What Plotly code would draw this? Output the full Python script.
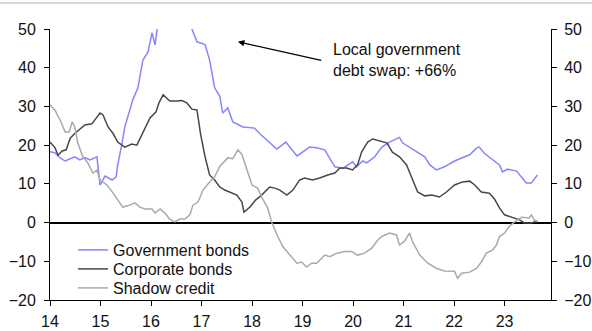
import plotly.graph_objects as go

# ---- data ----
gov_x = [14.00, 14.10, 14.20, 14.30, 14.49, 14.59, 14.69, 14.79, 14.93, 14.99, 15.09, 15.23, 15.31,
         15.34, 15.42, 15.48, 15.64, 15.74, 15.84, 15.94, 16.02, 16.08, 16.14, 16.30, 16.45, 16.60,
         16.72, 16.81, 16.91, 17.07, 17.16, 17.26, 17.36, 17.42, 17.52, 17.62, 17.82, 18.05, 18.15,
         18.35, 18.49, 18.67, 18.89, 18.98, 19.14, 19.28, 19.44, 19.64, 19.80, 19.99, 20.07, 20.19,
         20.27, 20.43, 20.57, 20.72, 20.92, 20.98, 21.12, 21.32, 21.42, 21.52, 21.65, 21.81, 22.01,
         22.21, 22.31, 22.45, 22.50, 22.60, 22.76, 22.90, 22.96, 23.06, 23.24, 23.34, 23.43, 23.53,
         23.65]
gov_y = [18.3, 18.0, 16.7, 15.9, 17.0, 16.2, 16.8, 16.2, 17.0, 9.7, 12.0, 11.0, 11.8,
         14.9, 20.0, 24.7, 31.7, 34.8, 42.0, 44.0, 49.0, 45.9, 52.0, 60.0, 66.0, 63.0,
         56.0, 50.0, 46.7, 46.0, 42.0, 34.8, 32.7, 28.3, 29.6, 26.0, 24.7, 24.4, 23.0,
         20.6, 19.0, 20.8, 17.2, 18.0, 19.5, 19.3, 18.8, 14.4, 14.0, 15.7, 14.4, 15.9,
         15.4, 17.0, 19.5, 20.8, 22.0, 20.6, 19.5, 17.9, 17.0, 14.9, 13.6, 14.4, 15.9,
         17.0, 17.5, 19.3, 19.5, 17.9, 16.2, 14.9, 13.1, 13.8, 13.3, 11.8, 10.2, 10.2,
         12.3]

corp_x = [14.00, 14.10, 14.16, 14.24, 14.32, 14.40, 14.49, 14.59, 14.69, 14.83, 14.99, 15.05, 15.15,
          15.25, 15.34, 15.48, 15.62, 15.72, 15.84, 15.98, 16.10, 16.16, 16.24, 16.37, 16.51, 16.61,
          16.71, 16.81, 16.91, 16.98, 17.07, 17.16, 17.26, 17.36, 17.46, 17.56, 17.70, 17.80, 17.84,
          17.96, 18.07, 18.19, 18.35, 18.45, 18.55, 18.69, 18.81, 18.94, 19.04, 19.20, 19.34, 19.50,
          19.64, 19.74, 19.87, 19.99, 20.09, 20.17, 20.29, 20.39, 20.53, 20.67, 20.78, 20.92, 21.06,
          21.18, 21.28, 21.42, 21.56, 21.71, 21.85, 22.01, 22.17, 22.31, 22.41, 22.54, 22.70, 22.80,
          22.90, 23.00, 23.14, 23.30, 23.39, 23.53, 23.65]
corp_y = [20.8, 19.3, 17.4, 18.5, 18.8, 21.8, 23.0, 24.0, 25.2, 25.5, 28.3, 27.8, 24.7,
          23.0, 20.8, 19.5, 20.3, 20.0, 23.4, 27.0, 28.6, 31.0, 33.0, 31.4, 31.4, 31.5,
          30.9, 29.3, 29.1, 23.0, 17.0, 12.3, 11.0, 9.2, 8.4, 7.9, 7.1, 5.3, 2.7,
          4.0, 5.8, 7.1, 9.2, 8.9, 8.4, 7.1, 8.4, 11.0, 11.5, 11.0, 11.5, 12.3,
          12.8, 14.1, 14.1, 13.6, 14.9, 18.2, 20.8, 21.6, 21.1, 20.6, 18.2, 17.0, 14.9,
          11.0, 7.9, 6.9, 7.1, 6.6, 7.9, 9.7, 10.5, 10.7, 9.7, 7.9, 7.6, 6.1,
          3.8, 2.0, 1.4, 0.7, -0.1, -0.1, 0.4]

shadow_x = [14.00, 14.10, 14.20, 14.30, 14.38, 14.44, 14.49, 14.55, 14.65, 14.75, 14.85, 14.93, 14.99,
            15.13, 15.25, 15.34, 15.44, 15.58, 15.68, 15.78, 15.88, 16.02, 16.08, 16.18, 16.27, 16.37,
            16.47, 16.57, 16.67, 16.77, 16.83, 16.93, 17.03, 17.16, 17.26, 17.36, 17.52, 17.62, 17.72,
            17.80, 17.92, 18.00, 18.11, 18.19, 18.31, 18.39, 18.51, 18.61, 18.75, 18.89, 18.98, 19.08,
            19.18, 19.28, 19.38, 19.44, 19.54, 19.68, 19.83, 19.97, 20.09, 20.23, 20.37, 20.49, 20.57,
            20.72, 20.86, 20.92, 21.02, 21.12, 21.18, 21.32, 21.48, 21.65, 21.81, 22.01, 22.07, 22.15,
            22.31, 22.45, 22.54, 22.64, 22.76, 22.84, 22.90, 23.00, 23.10, 23.20, 23.34, 23.49, 23.53,
            23.59, 23.65]
shadow_y = [30.4, 29.0, 26.5, 23.4, 23.4, 26.0, 24.7, 20.6, 17.0, 15.4, 12.8, 13.6, 11.0,
            9.7, 7.6, 5.8, 4.0, 4.5, 5.1, 4.0, 3.5, 3.5, 2.5, 3.5, 2.5, 0.9,
            0.2, 0.9, 0.9, 2.0, 4.5, 5.3, 8.4, 10.5, 11.8, 14.5, 16.7, 16.5, 18.8,
            17.6, 13.1, 9.7, 8.9, 6.6, 3.8, 0.1, -3.6, -6.2, -8.4, -10.5, -10.2, -11.5,
            -10.5, -10.5, -9.2, -8.4, -8.8, -7.9, -7.5, -7.5, -8.4, -7.9, -6.6, -4.5, -3.6,
            -2.7, -3.2, -5.8, -4.8, -2.7, -5.0, -8.4, -10.5, -11.8, -12.5, -12.6, -14.4, -13.1,
            -12.8, -11.8, -10.2, -7.9, -7.1, -5.8, -3.6, -2.7, -0.9, 0.2, 1.4, 1.2, 2.0,
            0.7, 0.2]

x_tickvals = [14, 15, 16, 17, 18, 19, 20, 21, 22, 23]
x_ticktext = ["14", "15", "16", "17", "18", "19", "20", "21", "22", "23"]
y_tickvals = [-20, -10, 0, 10, 20, 30, 40, 50]

series_names = ["Government bonds", "Corporate bonds", "Shadow credit"]
annotation_text = "Local government<br>debt swap: +66%"

FONT = "Liberation Sans, Arial, sans-serif"
TXT = "#111111"

fig = go.Figure()
fig.add_trace(go.Scatter(x=gov_x, y=gov_y, mode="lines", name=series_names[0],
                         line=dict(color="#8585ff", width=1.5), legend="legend"))
fig.add_trace(go.Scatter(x=corp_x, y=corp_y, mode="lines", name=series_names[1],
                         line=dict(color="#484848", width=1.5), legend="legend2"))
fig.add_trace(go.Scatter(x=shadow_x, y=shadow_y, mode="lines", name=series_names[2],
                         line=dict(color="#aaaaaa", width=1.5), legend="legend3"))
# invisible trace to activate the right axis
fig.add_trace(go.Scatter(x=[14], y=[0], yaxis="y2", mode="markers",
                         marker=dict(opacity=0), showlegend=False, hoverinfo="skip"))

axis_common = dict(showgrid=False, showline=True, linecolor="black", linewidth=1,
                   ticks="outside", ticklen=5, tickcolor="black", automargin=False,
                   tickfont=dict(family=FONT, size=16, color=TXT))

legend_common = dict(xanchor="left", yanchor="middle", bgcolor="rgba(0,0,0,0)",
                     font=dict(family=FONT, size=16, color=TXT), itemwidth=30)

LEG_X = 0.046

fig.update_layout(
    width=592, height=331,
    margin=dict(l=50, r=41, t=29, b=31),
    paper_bgcolor="white", plot_bgcolor="white",
    font=dict(family=FONT, size=16, color=TXT),
    xaxis=dict(range=[14, 23.92], tickvals=x_tickvals, ticktext=x_ticktext,
               zeroline=False, ticklabelstandoff=2, **axis_common),
    yaxis=dict(range=[-20, 50], tickvals=y_tickvals, zeroline=True,
               zerolinecolor="black", zerolinewidth=1.5, ticklabelstandoff=5, **axis_common),
    yaxis2=dict(range=[-20, 50], tickvals=y_tickvals, overlaying="y", side="right",
                zeroline=False, ticklabelstandoff=4, **axis_common),
    showlegend=True,
    legend=dict(x=LEG_X, y=0.1845, **legend_common),
    legend2=dict(x=LEG_X, y=0.1144, **legend_common),
    legend3=dict(x=LEG_X, y=0.0443, **legend_common),
)

# arrow
fig.add_annotation(x=17.72, y=46.7, ax=19.40, ay=41.8, axref="x", ayref="y",
                   text="", showarrow=True, arrowhead=2, arrowsize=1, arrowwidth=1.3,
                   arrowcolor="black", standoff=0, startstandoff=0)
# label
fig.add_annotation(x=19.57, y=42.0, text=annotation_text, showarrow=False,
                   xanchor="left", yanchor="middle", align="left",
                   font=dict(family=FONT, size=16, color=TXT))

# faint rule at top of the image
fig.add_shape(type="line", xref="paper", yref="paper",
              x0=-50 / 501, x1=542 / 501, y0=1 + 26 / 271, y1=1 + 26 / 271,
              line=dict(color="#c8c8c8", width=1.5))

fig.write_html("out.html", config={"displayModeBar": False},
               post_script="document.body.style.margin='0';document.body.style.overflow='hidden';")
